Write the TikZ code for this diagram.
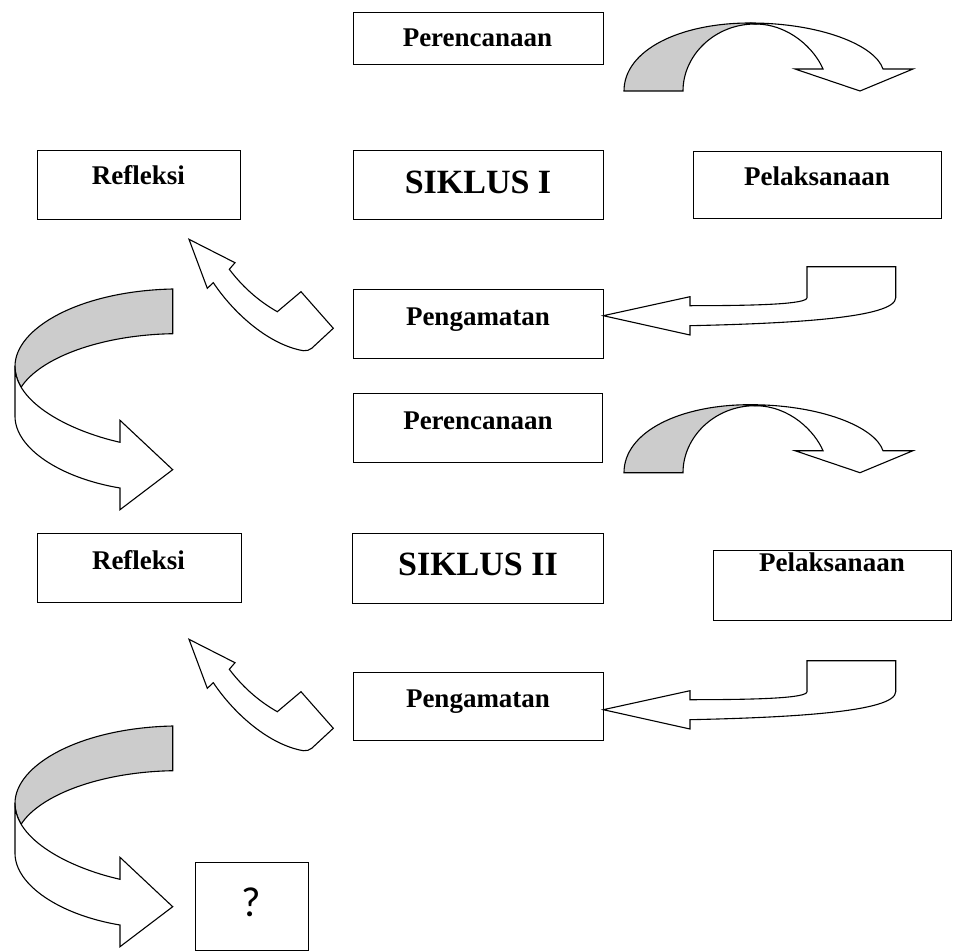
\documentclass[tikz,border=0pt]{standalone}
\usepackage{fontspec}
\setmainfont{Liberation Serif}
\newfontfamily\qfont{Carlito}
\definecolor{bandgray}{RGB}{204,204,204}
\tikzset{
  box/.style={draw=black, line width=1.4pt, inner sep=0pt, anchor=north west},
  lbl/.style={font=\fontsize{27}{30}\selectfont\bfseries, inner sep=0pt, anchor=base},
  big/.style={font=\fontsize{34}{38}\selectfont\bfseries, inner sep=0pt, anchor=base},
  qlbl/.style={font=\fontsize{42}{46}\selectfont\qfont, inner sep=0pt, anchor=base},
  shapeline/.style={draw=black, line width=1.1pt, line join=miter},
  backband/.style={shapeline, fill=bandgray},
  frontband/.style={shapeline, fill=white},
  curvedown/.pic={
    \path[backband] (624,91) .. controls (624,50) and (680,23) .. (750,23)
      -- (755,24) .. controls (715,24) and (683,55) .. (683,91) -- cycle;
    \path[frontband] (750,23) .. controls (820,23) and (875,45) .. (883,69)
      -- (913,69) -- (860,91) -- (795,69) -- (823,69)
      .. controls (815,50) and (790,24) .. (755,24) -- cycle;
  },
  turnarrow/.pic={
    \path[backband] (172.7,0) .. controls (80,2) and (15,39) .. (15,77.3)
      .. controls (15,84.64) and (17.2,91.63) .. (21.12,98.21)
      .. controls (40,69) and (100,46) .. (172.7,44.7) -- cycle;
    \path[frontband] (15,77.3) .. controls (15,114) and (70,142) .. (120,153.3)
      -- (120,131.3) -- (172.7,180.7) -- (120,220.7) -- (120,199)
      .. controls (60,189) and (15,159) .. (15,127.3) -- cycle;
  },
  backarrow/.pic={
    \path[frontband] (603.3,315.7) -- (690,296.7) -- (690,305.7)
      .. controls (760,305.7) and (807,304) .. (807,297.7) -- (807,266.7)
      -- (895.7,266.7) -- (895.7,297.7)
      .. controls (895.7,318) and (790,323.5) .. (690,325.7)
      -- (690,335) -- cycle;
  },
  hookarrow/.pic={
    \path[frontband] (189,239.3) -- (235,262.7) -- (229.3,269.3)
      .. controls (245,290) and (262,303) .. (277.3,311.7)
      -- (301,291.7) -- (333.3,328.3) -- (311.7,348.3)
      .. controls (309,350.5) and (307,350.7) .. (303.3,350.7)
      .. controls (270,345) and (235,315) .. (213.3,282.7)
      -- (207.3,288.3) -- cycle;
  },
}
\begin{document}
\begin{tikzpicture}[x=1pt, y=-1pt]
\useasboundingbox (0,0) rectangle (953,952);

% ---------- arrows, cycle I ----------
\pic {curvedown};
\pic {backarrow};
\pic {hookarrow};
\begin{scope}[shift={(0,289)}, yscale=0.703]
  \pic {turnarrow};
\end{scope}

% ---------- arrows, cycle II ----------
\begin{scope}[shift={(0,381.7)}]
  \pic {curvedown};
\end{scope}
\begin{scope}[shift={(0,394)}]
  \pic {backarrow};
\end{scope}
\begin{scope}[shift={(0,400)}]
  \pic {hookarrow};
\end{scope}
\begin{scope}[shift={(0,726)}]
  \pic {turnarrow};
\end{scope}

% ---------- boxes, cycle I ----------
\node[box, minimum width=250pt, minimum height=52pt] (per1) at (353,12) {};
\node[box, minimum width=203.3pt, minimum height=69pt] (ref1) at (36.7,150) {};
\node[box, minimum width=250pt, minimum height=69pt] (sik1) at (353,150) {};
\node[box, minimum width=248.3pt, minimum height=67.3pt] (pel1) at (692.7,150.7) {};
\node[box, minimum width=250pt, minimum height=69pt] (pen1) at (353,289) {};

\node[lbl] (per1t) at (477.5,47) {Perencanaan};
\node[lbl] (ref1t) at (138.4,185) {Refleksi};
\node[big] (sik1t) at (478,194) {SIKLUS I};
\node[lbl] (pel1t) at (817,186) {Pelaksanaan};
\node[lbl] (pen1t) at (478,325) {Pengamatan};

% ---------- boxes, cycle II ----------
\node[box, minimum width=249pt, minimum height=69pt] (per2) at (353,393) {};
\node[box, minimum width=204pt, minimum height=69pt] (ref2) at (36.5,533) {};
\node[box, minimum width=251pt, minimum height=70pt] (sik2) at (352,533) {};
\node[box, minimum width=238pt, minimum height=70pt] (pel2) at (713,550) {};
\node[box, minimum width=250pt, minimum height=68pt] (pen2) at (353,672) {};
\node[box, minimum width=113pt, minimum height=88pt] (qbox) at (195,862) {};

\node[lbl] (per2t) at (478,429) {Perencanaan};
\node[lbl] (ref2t) at (138.5,569) {Refleksi};
\node[big] (sik2t) at (478,575) {SIKLUS II};
\node[lbl] (pel2t) at (832,571) {Pelaksanaan};
\node[lbl] (pen2t) at (478,707) {Pengamatan};
\node[qlbl] (qt) at (251.7,916) {?};
\end{tikzpicture}
\end{document}
